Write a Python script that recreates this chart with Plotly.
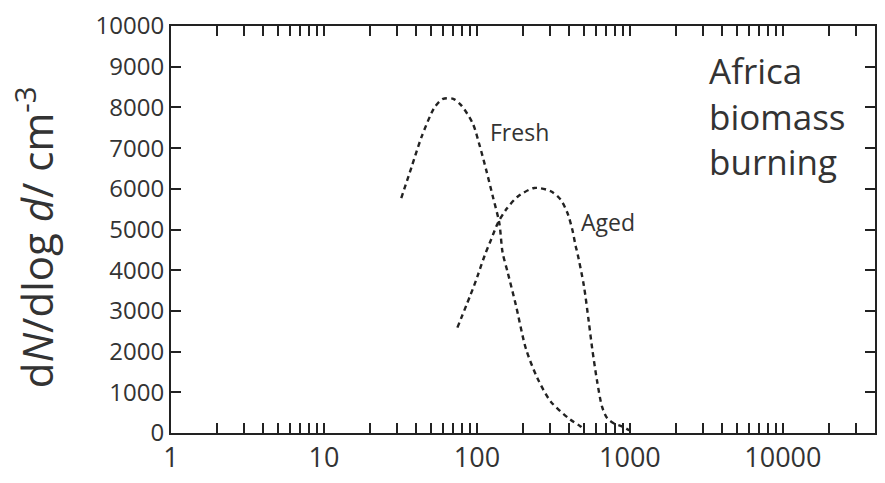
import math
import plotly.graph_objects as go

# ---- data ----
fresh_d = [32, 37.5, 43.5, 53, 60, 70, 79, 94, 104, 115, 127, 140, 147, 159, 180, 209, 249, 304, 409, 476, 500]
fresh_n = [5770, 6550, 7280, 8010, 8210, 8210, 8050, 7600, 7070, 6460, 5810, 5160, 4440, 3940, 3130, 2070, 1340, 770, 325, 160, 80]

aged_d = [74.5, 94, 101, 112, 124, 137, 155, 185, 237, 304, 353, 390, 420, 442, 453, 500, 539, 567, 611, 658, 709, 783, 887, 1000]
aged_n = [2590, 3540, 3860, 4350, 4760, 5160, 5490, 5810, 6020, 5940, 5730, 5410, 5000, 4590, 4430, 3620, 2720, 2070, 1260, 640, 366, 240, 163, 60]

x_major = [1, 10, 100, 1000, 10000]
x_major_labels = ["1", "10", "100", "1000", "10000"]
y_ticks = list(range(0, 10001, 1000))
y_tick_labels = [str(v) for v in y_ticks]

# minor log ticks 2..9 x 10^k up to 30000
x_minor = []
for k in range(0, 5):
    for m in range(2, 10):
        v = m * 10 ** k
        if v < 40000:
            x_minor.append(v)

FONT = "Open Sans"
TXT = "#333333"
LINE = "#222222"

fig = go.Figure()
for d, n in ((fresh_d, fresh_n), (aged_d, aged_n)):
    fig.add_trace(go.Scatter(
        x=d, y=n, mode="lines",
        line=dict(color=LINE, width=2.4, dash="5px,4px", shape="spline", smoothing=0.8),
        showlegend=False, hoverinfo="skip"))

fig.update_layout(
    width=885, height=483, autosize=False,
    margin=dict(l=171, r=8, t=25, b=48, pad=0),
    paper_bgcolor="white", plot_bgcolor="white",
    font=dict(family=FONT, color=TXT),
    xaxis=dict(type="log", range=[0, math.log10(40000)],
               tickmode="array", tickvals=x_major, ticktext=x_major_labels,
               ticks="inside", ticklen=10, tickwidth=1.5, tickcolor=LINE,
               minor=dict(tickmode="array", tickvals=x_minor, ticks="inside",
                          ticklen=10, tickwidth=1.5, tickcolor=LINE, showgrid=False),
               showline=True, linewidth=2, linecolor=LINE, mirror="ticks",
               showgrid=False, zeroline=False,
               tickfont=dict(family=FONT, size=27, color=TXT)),
    yaxis=dict(range=[0, 10000], tickmode="array", tickvals=y_ticks, ticktext=y_tick_labels,
               ticks="inside", ticklen=10, tickwidth=1.5, tickcolor=LINE,
               showline=True, linewidth=2, linecolor=LINE, mirror="ticks",
               showgrid=False, zeroline=False,
               tickfont=dict(family=FONT, size=24, color=TXT)),
)

fig.add_annotation(text="d<i>N</i>/dlog <i>d</i>/ cm<sup>-3</sup>", textangle=-90,
                   xref="paper", yref="paper", x=(35 - 171) / 706, y=0.482,
                   xanchor="center", yanchor="middle", showarrow=False,
                   font=dict(family=FONT, size=42, color=TXT))
fig.add_annotation(text="Fresh", xref="x", yref="y", x=math.log10(118), y=7390,
                   xanchor="left", yanchor="middle", showarrow=False,
                   font=dict(family=FONT, size=23, color=TXT))
fig.add_annotation(text="Aged", xref="x", yref="y", x=math.log10(467), y=5195,
                   xanchor="left", yanchor="middle", showarrow=False,
                   font=dict(family=FONT, size=23, color=TXT))
fig.add_annotation(text="Africa<br>biomass<br>burning", xref="paper", yref="paper",
                   x=(709 - 171) / 706, y=0.778, xanchor="left", yanchor="middle",
                   align="left", showarrow=False,
                   font=dict(family=FONT, size=35, color=TXT))

fig.write_html("out.html")
